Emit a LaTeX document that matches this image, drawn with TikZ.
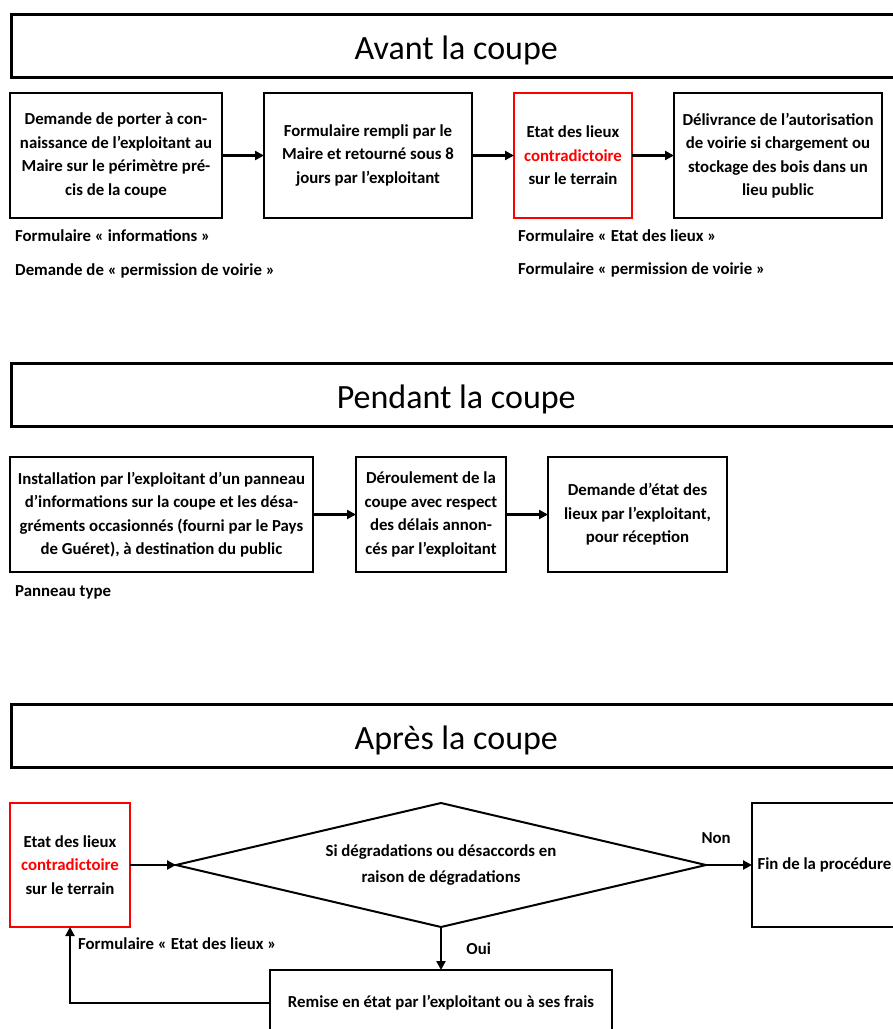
\documentclass[tikz,border=0pt]{standalone}
\usepackage{fontspec}
\setmainfont{Carlito}
\usepackage{xcolor}
\usepackage{tikz}
\usetikzlibrary{positioning, arrows.meta, shapes.geometric}

\begin{document}
\begin{tikzpicture}[x=1pt, y=-1pt,
    box/.style={rectangle, draw, line width=2pt, outer sep=0pt, align=center, inner sep=2pt, font=\bfseries\fontsize{16.8}{23.5}\selectfont},
    redbox/.style={box, draw=red, line width=1.5pt},
    titlebox/.style={rectangle, draw, line width=2.5pt, minimum width=890pt, minimum height=63pt, anchor=north west, font=\fontsize{34}{40}\selectfont},
    note/.style={anchor=west, inner sep=0pt, font=\bfseries\fontsize{16.8}{20}\selectfont},
    arr/.style={line width=2.8pt, -{Triangle[length=9pt, width=9pt]}}
]
\useasboundingbox (0,0) rectangle (893,1029);

% Avant la coupe
\node[titlebox] (avant) at (10,13) {\raisebox{-5pt}[\height][\depth]{Avant la coupe}};
\node[box, anchor=north west, minimum width=212pt, minimum height=125pt] (demande) at (10,93) {Demande de porter à con-\\naissance de l’exploitant au\\Maire sur le périmètre pré-\\cis de la coupe};
\node[box, right=42pt of demande, minimum width=208pt, minimum height=125pt] (rempli) {Formulaire rempli par le\\Maire et retourné sous 8\\jours par l’exploitant};
\node[redbox, right=42pt of rempli, minimum width=118pt, minimum height=125pt] (etat) {Etat des lieux\\\textcolor{red}{contradictoire}\\sur le terrain};
\node[box, right=42pt of etat, minimum width=208pt, minimum height=125pt] (delivrance) {Délivrance de l’autorisation\\de voirie si chargement ou\\stockage des bois dans un\\lieu public};
\draw[arr] (demande) -- (rempli);
\draw[arr] (rempli) -- (etat);
\draw[arr] (etat) -- (delivrance);

\node[note] (forminfo) at (15,236) {Formulaire « informations »};
\node[note] (permdem) at (15,271) {Demande de « permission de voirie »};
\node[note] (formetat) at (518,236) {Formulaire « Etat des lieux »};
\node[note] (formperm) at (518,270) {Formulaire « permission de voirie »};

% Pendant la coupe
\node[titlebox] (pendant) at (10,362) {\raisebox{-5pt}[\height][\depth]{Pendant la coupe}};
\node[box, anchor=north west, minimum width=303pt, minimum height=115pt] (panneau) at (10,457) {Installation par l’exploitant d’un panneau\\d’informations sur la coupe et les désa-\\gréments occasionnés (fourni par le Pays\\de Guéret), à destination du public};
\node[box, right=43pt of panneau, minimum width=150pt, minimum height=115pt] (deroulement) {Déroulement de la\\coupe avec respect\\des délais annon-\\cés par l’exploitant};
\node[box, right=42pt of deroulement, minimum width=179pt, minimum height=115pt] (reception) {Demande d’état des\\lieux par l’exploitant,\\pour réception};
\draw[arr] (panneau) -- (deroulement);
\draw[arr] (deroulement) -- (reception);

\node[note] (type) at (15,592) {Panneau type};

% Apres la coupe
\node[titlebox] (apres) at (10,703) {\raisebox{-5pt}[\height][\depth]{Après la coupe}};
\node[redbox, anchor=north west, minimum width=120pt, minimum height=124pt] (etatfin) at (10,803) {Etat des lieux\\\textcolor{red}{contradictoire}\\sur le terrain};
\node[diamond, draw, line width=2pt, outer sep=0pt, aspect=4.27, inner sep=0pt, minimum width=530pt, minimum height=124pt, right=46pt of etatfin, align=center, font=\bfseries\fontsize{16.8}{26}\selectfont] (degrad) {Si dégradations ou désaccords en\\raison de dégradations};
\node[box, right=46pt of degrad, minimum width=145pt, minimum height=124pt] (fin) {Fin de la procédure};
\node[box, below=43pt of degrad, minimum width=342pt, minimum height=66pt] (remise) {Remise en état par l’exploitant ou à ses frais};
\draw[arr] (etatfin) -- (degrad);
\draw[arr] (degrad) -- node[note, anchor=center, pos=0.22, yshift=27pt] (non) {Non} (fin);
\draw[arr] (degrad) -- node[note, anchor=west, right=24pt] (oui) {Oui} (remise);
\draw[arr] (remise.west) -| (etatfin.south);

\node[note] (formetatfin) at (78,944) {Formulaire « Etat des lieux »};
\end{tikzpicture}
\end{document}
